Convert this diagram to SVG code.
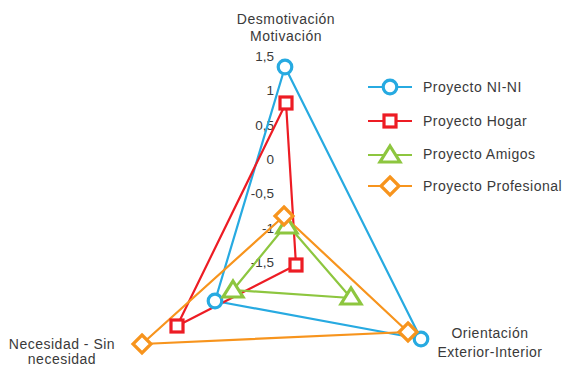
<svg xmlns="http://www.w3.org/2000/svg" width="563" height="368" viewBox="0 0 563 368">
<style>
text{font-family:"Liberation Sans",Arial,sans-serif;fill:#3a3a3a}
.ax{font-size:14px;letter-spacing:0.5px;text-anchor:middle}
.tk{font-size:13.5px;text-anchor:end}
.lg{font-size:14px;letter-spacing:0.5px}
.ln{fill:none;stroke-width:2.2;stroke-linejoin:round}
.mk{fill:#fff;stroke-width:3.2}
.b{stroke:#27AAE1}.r{stroke:#ED1C24}.g{stroke:#8DC63F}.o{stroke:#F7941D}
</style>
<defs>
<circle id="mc" r="6.8" class="mk b"/>
<rect id="ms" x="-6" y="-6" width="12" height="12" class="mk r"/>
<polygon id="mt" points="0,-9 10,7 -10,7" class="mk g"/>
<polygon id="md" points="0,-9 9,0 0,9 -9,0" class="mk o"/>
</defs>
<g id="axis-labels">
<text class="ax" x="286" y="24">Desmotivación</text>
<text class="ax" x="286" y="41">Motivación</text>
<text class="ax" x="62" y="349">Necesidad - Sin</text>
<text class="ax" x="62" y="364">necesidad</text>
<text class="ax" x="490" y="338">Orientación</text>
<text class="ax" x="490" y="357">Exterior-Interior</text>
</g>
<g id="ticks">
<text class="tk" x="274" y="61">1,5</text>
<text class="tk" x="274" y="95">1</text>
<text class="tk" x="274" y="130">0,5</text>
<text class="tk" x="274" y="164">0</text>
<text class="tk" x="274" y="198">-0,5</text>
<text class="tk" x="274" y="233">-1</text>
<text class="tk" x="274" y="267">-1,5</text>
</g>
<g id="connectors">
<polygon class="ln b" points="285,67 421,339 215,301"/>
<polygon class="ln r" points="286,103 296,265 177,326"/>
<polygon class="ln g" points="287,224 351,298 233,290"/>
<polygon class="ln o" points="284,216 408,332 142,344"/>
</g>
<g id="series-nini">
<use href="#mc" x="285" y="67"/>
<use href="#mc" x="421" y="339"/>
<use href="#mc" x="215" y="301"/>
</g>
<g id="series-hogar">
<use href="#ms" x="286" y="103"/>
<use href="#ms" x="296" y="265"/>
<use href="#ms" x="177" y="326"/>
</g>
<g id="series-amigos">
<use href="#mt" x="287" y="226"/>
<use href="#mt" x="351" y="297"/>
<use href="#mt" x="233" y="290"/>
</g>
<g id="series-profesional">
<use href="#md" x="284" y="216"/>
<use href="#md" x="408" y="332"/>
<use href="#md" x="142" y="344"/>
</g>
<g id="legend">
<line class="ln b" x1="368" y1="87" x2="412" y2="87"/><use href="#mc" x="390" y="87"/>
<text class="lg" x="423" y="92">Proyecto NI-NI</text>
<line class="ln r" x1="368" y1="121" x2="412" y2="121"/><use href="#ms" x="390" y="121"/>
<text class="lg" x="423" y="126">Proyecto Hogar</text>
<line class="ln g" x1="368" y1="155" x2="412" y2="155"/><use href="#mt" x="390" y="155"/>
<text class="lg" x="423" y="159">Proyecto Amigos</text>
<line class="ln o" x1="368" y1="186" x2="412" y2="186"/><use href="#md" x="390" y="186"/>
<text class="lg" x="423" y="191">Proyecto Profesional</text>
</g>
</svg>
